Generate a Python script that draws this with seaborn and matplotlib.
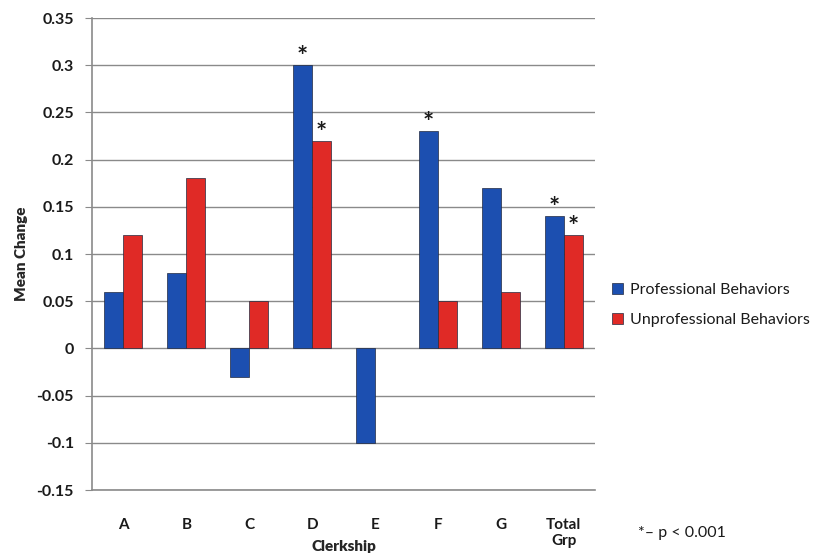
import numpy as np
import pandas as pd
import matplotlib.pyplot as plt
import seaborn as sns

clerkships = ['A', 'B', 'C', 'D', 'E', 'F', 'G', 'Total\nGrp']
professional = [0.06, 0.08, -0.03, 0.30, -0.10, 0.23, 0.17, 0.14]
unprofessional = [0.12, 0.18, 0.05, 0.22, np.nan, 0.05, 0.06, 0.12]
# which bars carry a significance star
star_prof = [False, False, False, True, False, True, False, True]
star_unprof = [False, False, False, True, False, False, False, True]

series = ['Professional Behaviors', 'Unprofessional Behaviors']
colors = {'Professional Behaviors': '#1c4fb0',
          'Unprofessional Behaviors': '#e02a26'}

df = pd.DataFrame({
    'Clerkship': clerkships * 2,
    'Mean Change': professional + unprofessional,
    'Behavior': [series[0]] * len(clerkships) + [series[1]] * len(clerkships),
})

sns.set_style('white')
plt.rcParams['font.family'] = ['Lato', 'DejaVu Sans']

fig = plt.figure(figsize=(8.28, 5.54), dpi=100)
ax = fig.add_axes([0.111, 0.1155, 0.608, 0.852])

sns.barplot(data=df, x='Clerkship', y='Mean Change', hue='Behavior',
            palette=colors, saturation=1, width=0.6, ax=ax, legend=False,
            edgecolor='#222a40', linewidth=0.5)

# stars above significant bars (match bars to categories by position,
# since the missing E value leaves one bar out of the second container)
for cont, flags in zip(ax.containers, [star_prof, star_unprof]):
    for bar in cont:
        cx = bar.get_x() + bar.get_width() / 2
        idx = int(round(cx))
        if flags[idx]:
            ax.text(cx, bar.get_height() - 0.004, '*', ha='center',
                    va='bottom', fontsize=19, fontweight='bold',
                    color='#1a1a1a')

ax.set_ylim(-0.15, 0.35)
ax.set_xlim(-0.5, len(clerkships) - 0.5)
ticks = [-0.15, -0.1, -0.05, 0, 0.05, 0.1, 0.15, 0.2, 0.25, 0.3, 0.35]
ax.set_yticks(ticks)
ax.set_yticklabels(['-0.15', '-0.1', '-0.05', '0', '0.05', '0.1', '0.15',
                    '0.2', '0.25', '0.3', '0.35'])
ax.yaxis.grid(True, color='#8a8a8a', linewidth=1.0)
ax.set_axisbelow(True)

for side in ['top', 'right']:
    ax.spines[side].set_visible(False)
for side in ['left', 'bottom']:
    ax.spines[side].set_color('#8a8a8a')
    ax.spines[side].set_linewidth(1.2)

ax.tick_params(axis='y', length=5, color='#8a8a8a', direction='out',
               labelsize=11.5, pad=8, left=True)
ax.tick_params(axis='x', length=0, labelsize=11, pad=20)
for lab in ax.get_yticklabels() + ax.get_xticklabels():
    lab.set_fontweight('bold')
    lab.set_color('#1a1a1a')

ax.set_ylabel('Mean Change', fontsize=11, fontweight='heavy', labelpad=6)
ax.set_xlabel('Clerkship', fontsize=11, fontweight='heavy')
ax.xaxis.set_label_coords(0.5, -0.106)

handles = [plt.Rectangle((0, 0), 1, 1, facecolor=colors[s],
                         edgecolor='#222a40', linewidth=0.5) for s in series]
leg = fig.legend(handles, series, loc='center left',
                 bbox_to_anchor=(0.722, 0.45), frameon=False, fontsize=11.5,
                 handlelength=0.7, handleheight=0.7, handletextpad=0.4,
                 labelspacing=1.0)
for t in leg.get_texts():
    t.set_color('#1a1a1a')

fig.text(0.771, 0.03, '*\u2013 p < 0.001', fontsize=11.5, color='#1a1a1a')

fig.savefig('out.png', dpi=100)
